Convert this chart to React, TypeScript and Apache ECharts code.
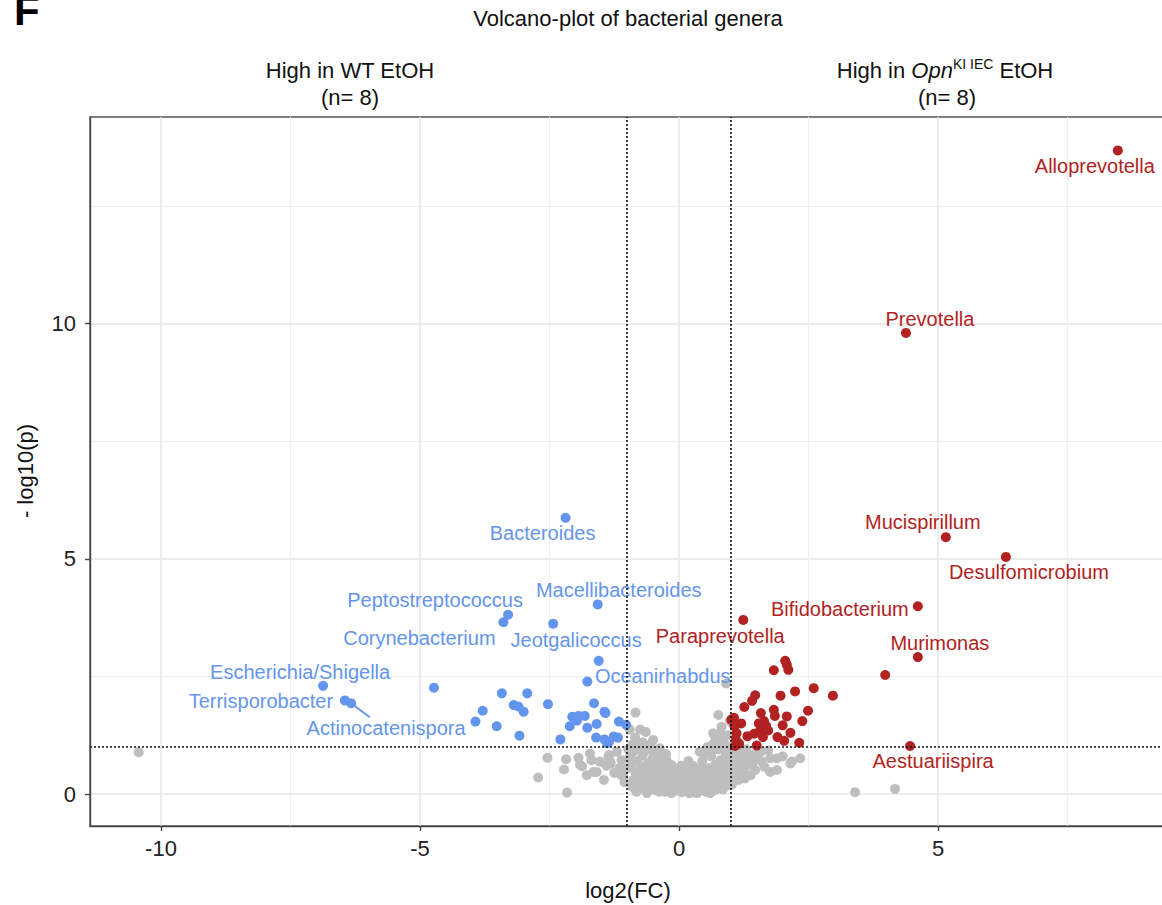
import React, { useEffect, useRef } from "react";
import * as echarts from "echarts";

const FONT = '"Liberation Sans", Arial, Helvetica, sans-serif';

const xTicks = [-10, -5, 0, 5];
const yTicks = [0, 5, 10];
const fcThresholds = [-1, 1];
const pThreshold = 1;

const chartTitle = "Volcano-plot of bacterial genera";
const xTitle = "log2(FC)";
const yTitle = "- log10(p)";

// labelled genera: High in Opn (red)
const upNames = ["Alloprevotella", "Prevotella", "Mucispirillum", "Desulfomicrobium", "Bifidobacterium", "Murimonas", "Paraprevotella", "Aestuariispira"];
const upX = [8.47, 4.38, 5.15, 6.31, 4.61, 4.61, 1.24, 4.46];
const upY = [13.68, 9.8, 5.46, 5.04, 3.99, 2.91, 3.7, 1.02];

// labelled genera: High in WT (blue)
const downNames = ["Bacteroides", "Macellibacteroides", "Peptostreptococcus", "Corynebacterium", "Jeotgalicoccus", "Oceanirhabdus", "Escherichia/Shigella", "Terrisporobacter", "Actinocatenispora"];
const downX = [-2.19, -1.57, -3.3, -3.39, -2.43, -1.55, -6.87, -6.45, -6.33];
const downY = [5.87, 4.03, 3.81, 3.65, 3.62, 2.83, 2.3, 1.99, 1.93];

// unlabelled significant points
const upOther: number[][] = [
  [3.98, 2.53], [2.05, 2.83], [2.08, 2.75], [2.11, 2.64], [1.83, 2.63], [2.24, 2.18], [2.6, 2.25], [2.97, 2.09],
  [1.96, 2.09], [1.47, 2.1], [1.41, 1.98], [1.26, 1.85], [1.58, 1.72], [1.83, 1.79], [1.85, 1.66], [2.08, 1.65],
  [2.49, 1.77], [2.38, 1.55], [2.0, 1.46], [2.15, 1.3], [1.68, 1.45], [1.54, 1.5], [1.56, 1.34], [1.62, 1.21],
  [1.32, 1.23], [1.9, 1.21], [2.03, 1.13], [2.32, 1.09], [1.5, 1.03], [1.16, 1.07], [1.08, 1.02], [1.06, 1.62],
  [1.07, 1.44], [1.11, 1.29], [1.01, 1.58], [1.72, 1.35], [1.64, 1.55], [1.45, 1.28], [1.2, 1.5], [1.1, 1.15],
];
const downOther: number[][] = [
  [-4.73, 2.26], [-3.42, 2.14], [-2.93, 2.14], [-2.53, 1.91], [-3.19, 1.89], [-3.1, 1.86], [-3.0, 1.75], [-3.79, 1.77],
  [-3.93, 1.54], [-3.52, 1.44], [-3.08, 1.24], [-2.29, 1.16], [-1.64, 1.93], [-1.44, 1.75], [-2.06, 1.64], [-1.94, 1.66],
  [-1.82, 1.66], [-1.97, 1.56], [-2.11, 1.44], [-1.77, 1.41], [-1.59, 1.49], [-1.16, 1.54], [-1.02, 1.47], [-1.6, 1.2],
  [-1.44, 1.16], [-1.35, 1.11], [-1.26, 1.22], [-1.18, 1.2], [-1.39, 1.08], [-1.77, 2.39], [-1.42, 1.72],
];
// not significant
const nsPoints: number[][] = [
  [-10.43, 0.89], [3.4, 0.04], [4.17, 0.11], [0.91, 2.35],
  [-2.72, 0.35], [-2.54, 0.77], [-2.18, 0.74], [-2.16, 0.03], [-2.22, 0.52], [-1.94, 0.77], [-1.91, 0.62], [-1.87, 0.59],
  [-1.72, 0.86], [-1.69, 0.72], [-1.78, 0.4], [-1.65, 0.47], [-1.59, 0.47], [-1.53, 0.69], [-1.36, 0.79], [-1.33, 0.69],
  [-1.32, 0.65], [-1.11, 0.72], [-1.11, 0.4], [-1.08, 0.37], [-1.35, 0.83],
  [-0.84, 1.73], [-0.95, 1.37], [-0.75, 1.37], [-0.64, 1.32], [-0.5, 1.15], [-0.79, 1.04], [-0.37, 0.97], [-0.88, 0.9],
  [-0.95, 0.8], [-0.6, 0.95], [-0.55, 1.05], [-0.7, 1.1], [-0.85, 1.2], [-0.45, 0.9], [-0.25, 0.75],
  [0.76, 1.68], [0.82, 1.43], [0.66, 1.29], [0.95, 1.25], [0.73, 1.08], [0.55, 1.0], [0.88, 1.05], [0.98, 1.55],
  [0.6, 0.9], [0.75, 0.95], [0.85, 1.15], [0.7, 1.2], [0.95, 1.0], [0.5, 0.85],
  [1.72, 0.93], [1.89, 0.76], [1.76, 0.76], [2.18, 0.69], [2.34, 0.76], [2.15, 0.65], [1.89, 0.51], [1.76, 0.47],
  [1.27, 0.33], [1.47, 0.51], [1.6, 0.69], [1.31, 0.79], [1.43, 0.83], [1.11, 0.76], [1.2, 0.55], [1.35, 0.62],
  [1.05, 0.9], [1.55, 0.88], [2.0, 0.8], [1.65, 0.58],
  [-1.0, 0.55], [-0.92, 0.62], [-0.85, 0.48], [-0.8, 0.7], [-0.76, 0.35], [-0.72, 0.58], [-0.7, 0.82], [-0.66, 0.25],
  [-0.63, 0.45], [-0.6, 0.66], [-0.57, 0.3], [-0.55, 0.15], [-0.52, 0.52], [-0.5, 0.78], [-0.48, 0.38], [-0.45, 0.08],
  [-0.43, 0.22], [-0.4, 0.6], [-0.38, 0.45], [-0.35, 0.3], [-0.33, 0.12], [-0.3, 0.72], [-0.28, 0.05], [-0.26, 0.4],
  [-0.24, 0.2], [-0.22, 0.55], [-0.2, 0.1], [-0.18, 0.32], [-0.15, 0.02], [-0.13, 0.45], [-0.1, 0.18], [-0.08, 0.28],
  [-0.05, 0.07], [-0.03, 0.38], [0.0, 0.12], [0.02, 0.22], [0.05, 0.04], [0.07, 0.33], [0.1, 0.15], [0.12, 0.5],
  [0.15, 0.08], [0.17, 0.26], [0.2, 0.02], [0.22, 0.4], [0.25, 0.14], [0.27, 0.6], [0.3, 0.22], [0.32, 0.06],
  [0.35, 0.35], [0.37, 0.48], [0.4, 0.12], [0.42, 0.28], [0.45, 0.7], [0.47, 0.2], [0.5, 0.42], [0.52, 0.05],
  [0.55, 0.32], [0.57, 0.55], [0.6, 0.15], [0.62, 0.8], [0.65, 0.4], [0.67, 0.25], [0.7, 0.62], [0.72, 0.1],
  [0.75, 0.48], [0.78, 0.3], [0.8, 0.72], [0.83, 0.55], [0.86, 0.2], [0.9, 0.85], [0.92, 0.4], [0.95, 0.62],
  [0.98, 0.28], [1.0, 0.5], [1.03, 0.7], [1.08, 0.42], [1.12, 0.6], [1.15, 0.3], [1.18, 0.85], [-1.05, 0.25],
  [-1.15, 0.55], [-1.2, 0.9], [-1.25, 0.45], [-1.4, 0.6], [-1.45, 0.3], [-0.9, 0.15], [-0.82, 0.05], [-0.7, 0.12],
  [-0.62, 0.02], [-0.5, 0.2], [-0.42, 0.35], [-0.36, 0.6], [-0.25, 0.85], [-0.15, 0.62], [-0.12, 0.35], [-0.06, 0.25],
  [0.0, 0.45], [0.04, 0.6], [0.08, 0.1], [0.14, 0.38], [0.18, 0.7], [0.24, 0.3], [0.28, 0.04], [0.33, 0.18],
  [0.38, 0.28], [0.43, 0.55], [0.48, 0.08], [0.53, 0.22], [0.58, 0.38], [0.63, 0.05], [0.68, 0.5], [0.73, 0.2],
  [0.77, 0.65], [0.82, 0.35], [0.85, 0.1], [0.88, 0.45], [0.93, 0.18], [0.97, 0.72], [1.02, 0.2], [1.06, 0.55],
  [1.1, 0.95], [1.14, 0.45], [1.22, 0.7], [1.25, 0.5], [1.3, 0.95], [1.38, 0.4], [1.42, 0.65], [1.5, 0.75],
  [1.58, 0.9], [-0.98, 0.95], [-0.88, 0.3], [-0.78, 0.18], [-0.68, 0.4], [-0.58, 0.5], [-0.46, 0.62], [-0.32, 0.42],
  [-0.2, 0.28], [-0.1, 0.5], [0.1, 0.28], [0.2, 0.18], [0.3, 0.4], [0.4, 0.32], [0.5, 0.15], [0.6, 0.28],
  [0.7, 0.35], [0.8, 0.15], [0.9, 0.3], [1.0, 0.38], [-0.2, 0.42], [0.35, 0.02], [-0.38, 0.05], [0.6, 0.02],
  [-0.6, 0.1], [0.15, 0.55], [-0.05, 0.15], [0.45, 0.45], [-0.28, 0.52], [0.25, 0.48],
  [-0.9, 1.05], [-0.65, 1.0], [-0.4, 0.8], [0.4, 0.9], [0.65, 1.05], [0.8, 1.3], [-0.75, 0.95], [0.9, 0.65],
];

// label offsets in pixels (style), keyed by name
const labelOffsets: Record<string, number[]> = {
  Alloprevotella: [-23, 16],
  Prevotella: [24, -14],
  Mucispirillum: [-23, -15],
  Desulfomicrobium: [23, 15],
  Bifidobacterium: [-78, 3],
  Murimonas: [22, -14],
  Paraprevotella: [-23, 16],
  Aestuariispira: [23, 15],
  Bacteroides: [-23, 15],
  Macellibacteroides: [21, -14],
  Peptostreptococcus: [-73, -15],
  Corynebacterium: [-84, 16],
  Jeotgalicoccus: [23, 16],
  Oceanirhabdus: [64, 15],
  "Escherichia/Shigella": [-23, -14],
  Terrisporobacter: [-84, 1],
  Actinocatenispora: [35, 25],
};

const BLUE = "#6495ED";
const RED = "#B22222";
const GREY = "#BEBEBE";

export default function App() {
  const ref = useRef<HTMLDivElement>(null);

  useEffect(() => {
    if (!ref.current) return;
    const chart = echarts.init(ref.current, undefined, { renderer: "svg" });

    const mkLabelled = (names: string[], xs: number[], ys: number[]) =>
      names.map((n, i) => ({
        name: n,
        value: [xs[i], ys[i]],
        label: { offset: labelOffsets[n] || [0, 0] },
      }));

    const actIdx = downNames.indexOf("Actinocatenispora");
    const segStart = [downX[actIdx], downY[actIdx]];
    const segEnd = [-5.97, 1.63];

    const labelCommon = {
      show: true,
      position: "inside",
      formatter: "{b}",
      fontSize: 20,
      fontFamily: FONT,
    };

    const option: any = {
      animation: false,
      backgroundColor: "#ffffff",
      grid: {
        left: 90,
        top: 117,
        right: -4,
        bottom: 79,
        show: true,
        borderColor: "#555",
        borderWidth: 1.4,
        backgroundColor: "transparent",
        containLabel: false,
        outerBoundsMode: "none",
      },
      xAxis: {
        type: "value",
        min: -11.37,
        max: 9.4,
        splitNumber: 4,
        axisLine: { show: true, onZero: false, lineStyle: { color: "#444", width: 1.4 } },
        axisTick: { show: true, length: 5, customValues: xTicks, lineStyle: { color: "#444", width: 1.4 } },
        axisLabel: { customValues: xTicks, fontSize: 22, color: "#222", margin: 11, fontFamily: FONT },
        splitLine: { show: true, lineStyle: { color: "#E6E6E6", width: 1.5 } },
        minorTick: { show: false, splitNumber: 2 },
        minorSplitLine: { show: true, lineStyle: { color: "#EFEFEF", width: 1 } },
      },
      yAxis: {
        type: "value",
        min: -0.68,
        max: 14.39,
        splitNumber: 3,
        axisLine: { show: true, onZero: false, lineStyle: { color: "#444", width: 1.4 } },
        axisTick: { show: true, length: 5, customValues: yTicks, lineStyle: { color: "#444", width: 1.4 } },
        axisLabel: { customValues: yTicks, fontSize: 22, color: "#222", margin: 14, fontFamily: FONT },
        splitLine: { show: true, lineStyle: { color: "#E6E6E6", width: 1.5 } },
        minorTick: { show: false, splitNumber: 2 },
        minorSplitLine: { show: true, lineStyle: { color: "#EFEFEF", width: 1 } },
      },
      series: [
        {
          type: "scatter",
          name: "ns",
          data: nsPoints,
          symbolSize: 10,
          itemStyle: { color: GREY, opacity: 1 },
          silent: true,
          z: 2,
        },
        {
          type: "scatter",
          name: "down",
          data: downOther,
          symbolSize: 10,
          itemStyle: { color: BLUE, opacity: 1 },
          silent: true,
          z: 3,
        },
        {
          type: "scatter",
          name: "up",
          data: upOther,
          symbolSize: 10,
          itemStyle: { color: RED, opacity: 1 },
          silent: true,
          z: 3,
        },
        {
          type: "line",
          name: "segment",
          data: [segStart, segEnd],
          symbol: "none",
          lineStyle: { color: BLUE, width: 2 },
          silent: true,
          z: 3,
        },
        {
          type: "scatter",
          name: "downLabelled",
          data: mkLabelled(downNames, downX, downY),
          symbolSize: 10,
          itemStyle: { color: BLUE, opacity: 1 },
          label: { ...labelCommon, color: BLUE },
          silent: true,
          z: 4,
        },
        {
          type: "scatter",
          name: "upLabelled",
          data: mkLabelled(upNames, upX, upY),
          symbolSize: 10,
          itemStyle: { color: RED, opacity: 1 },
          label: { ...labelCommon, color: RED },
          silent: true,
          z: 4,
        },
        {
          type: "scatter",
          name: "thresholds",
          data: [],
          silent: true,
          z: 5,
          markLine: {
            silent: true,
            symbol: "none",
            label: { show: false },
            lineStyle: { type: [2, 2], color: "#111", width: 1.6 },
            data: [
              ...fcThresholds.map((v) => ({ xAxis: v })),
              { yAxis: pThreshold },
            ],
          },
        },
      ],
      graphic: [
        {
          type: "text",
          x: 14,
          y: 10.4,
          style: { text: "F", fontSize: 42, fontWeight: "bold", fontFamily: FONT, fill: "#000", align: "left", verticalAlign: "middle" },
        },
        {
          type: "text",
          x: 628,
          y: 18,
          style: { text: chartTitle, fontSize: 22, fontFamily: FONT, fill: "#111", align: "center", verticalAlign: "middle" },
        },
        {
          type: "text",
          x: 350,
          y: 70,
          style: { text: "High in WT EtOH", fontSize: 22, fontFamily: FONT, fill: "#111", align: "center", verticalAlign: "middle" },
        },
        {
          type: "text",
          x: 350,
          y: 97,
          style: { text: "(n= 8)", fontSize: 22, fontFamily: FONT, fill: "#111", align: "center", verticalAlign: "middle" },
        },
        {
          type: "text",
          x: 945,
          y: 70,
          style: {
            text: "{a|High in }{it|Opn}{sup|KI IEC}{a| EtOH}",
            fontSize: 22,
            fontFamily: FONT,
            fill: "#111",
            align: "center",
            verticalAlign: "middle",
            rich: {
              a: { fontSize: 22, fontFamily: FONT, fill: "#111", lineHeight: 26, verticalAlign: "middle" },
              it: { fontSize: 22, fontFamily: FONT, fill: "#111", fontStyle: "italic", lineHeight: 26, verticalAlign: "middle" },
              sup: { fontSize: 14, fontFamily: FONT, fill: "#111", lineHeight: 14, verticalAlign: "top" },
            },
          },
        },
        {
          type: "text",
          x: 947,
          y: 97,
          style: { text: "(n= 8)", fontSize: 22, fontFamily: FONT, fill: "#111", align: "center", verticalAlign: "middle" },
        },
        {
          type: "text",
          x: 628,
          y: 890,
          style: { text: xTitle, fontSize: 22, fontFamily: FONT, fill: "#111", align: "center", verticalAlign: "middle" },
        },
        {
          type: "text",
          x: 25,
          y: 471,
          rotation: Math.PI / 2,
          style: { text: yTitle, fontSize: 22, fontFamily: FONT, fill: "#111", align: "center", verticalAlign: "middle" },
        },
      ],
    };

    chart.setOption(option);
    return () => chart.dispose();
  }, []);

  return (
    <div
      ref={ref}
      style={{ position: "absolute", left: 0, top: 0, width: 1162, height: 905, background: "#fff" }}
    />
  );
}
